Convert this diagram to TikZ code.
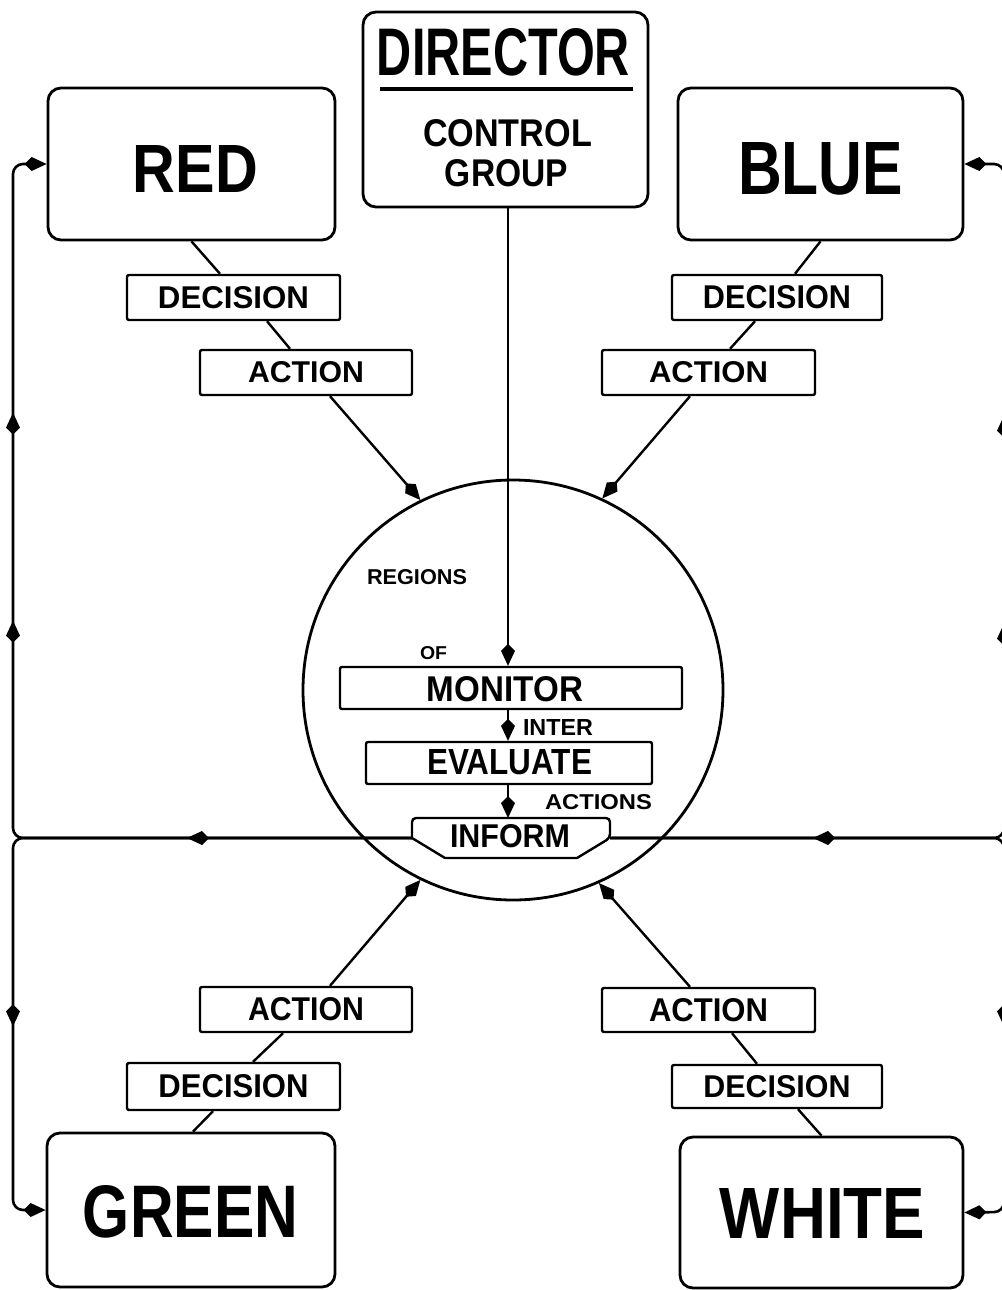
\documentclass[tikz,border=0pt]{standalone}
\usepackage{fontspec}
\setmainfont{Liberation Sans}
\usepackage{graphicx}
\usetikzlibrary{arrows.meta,decorations.markings,calc}

\newcommand\fittxt[3]{\resizebox{#1pt}{#2pt}{\bfseries #3}}

\begin{document}
\begin{tikzpicture}[x=1pt,y=-1pt,
  >={Kite[length=22pt,width=14pt,inset=7pt]},
  bigbox/.style={draw,line width=2.8pt,rounded corners=13pt,inner sep=0pt},
  smallbox/.style={draw,line width=2.4pt,rounded corners=2pt,inner sep=0pt,minimum height=45pt},
  link/.style={line width=2.4pt},
  feed/.style={line width=2.6pt,rounded corners=10pt},
  txt/.style={inner sep=0pt},
  marks/.style={postaction={decorate},decoration={markings,#1}}
]
\useasboundingbox (0,0) rectangle (1001,1290);

% ---------- main boxes ----------
\node[bigbox,minimum width=285pt,minimum height=195pt] (dir) at (505.5,109.5) {};
\node[bigbox,minimum width=287pt,minimum height=152pt] (red) at (191.5,164) {};
\node[bigbox,minimum width=285pt,minimum height=152pt] (blue) at (820.5,164) {};
\node[bigbox,minimum width=288pt,minimum height=154pt] (green) at (191,1210) {};
\node[bigbox,minimum width=283pt,minimum height=151pt] (white) at (821.5,1212.5) {};

% ---------- director texts ----------
\node[txt] (dirT) at (503.5,52.5) {\fittxt{253}{47}{DIRECTOR}};
\draw[line width=4pt] (dirT.south west) ++(3,12) coordinate (ulA) -- ++(253,0) coordinate (ulB);
\node[txt] (ctrlT) at (507.5,133.5) {\fittxt{169}{27}{CONTROL}};
\node[txt] (grpT) at (506.5,173.5) {\fittxt{123}{27}{GROUP}};

% ---------- team names ----------
\node[txt] (redT) at (195.5,168.5) {\fittxt{125}{47}{RED}};
\node[txt] (blueT) at (820.5,168.5) {\fittxt{165}{52}{BLUE}};
\node[txt] (greenT) at (190.5,1211.5) {\fittxt{215}{52}{GREEN}};
\node[txt] (whiteT) at (822.5,1213) {\fittxt{205}{50}{WHITE}};

% ---------- decision / action boxes ----------
\node[smallbox,minimum width=213pt] (decr) at (233.5,297.5) {\fittxt{151}{22}{DECISION}};
\node[smallbox,minimum width=212pt] (actr) at (306,372.5) {\fittxt{116}{21}{ACTION}};
\node[smallbox,minimum width=210pt] (decb) at (777,297.5) {\fittxt{148}{23}{DECISION}};
\node[smallbox,minimum width=213pt] (actb) at (708.5,372.5) {\fittxt{119}{21}{ACTION}};
\node[smallbox,minimum width=212pt] (actg) at (306,1009.5) {\fittxt{116}{23}{ACTION}};
\node[smallbox,minimum width=213pt,minimum height=47pt] (decg) at (233.5,1086.5) {\fittxt{150}{23}{DECISION}};
\node[smallbox,minimum width=213pt,minimum height=44pt] (actw) at (708.5,1010) {\fittxt{119}{23}{ACTION}};
\node[smallbox,minimum width=210pt,minimum height=43pt] (decw) at (777,1086.5) {\fittxt{147}{22}{DECISION}};

% ---------- circle ----------
\node[draw,circle,line width=2.8pt,minimum size=420pt,inner sep=0pt] (circ) at (513,690) {};

\node[txt] (regT) at (417,577.5) {\fittxt{100}{15}{REGIONS}};
\node[txt] (ofT) at (433.5,653.5) {\fittxt{27}{13}{OF}};
\node[smallbox,minimum width=342pt,minimum height=42pt] (mon) at (511,688) {};
\node[txt] (monT) at (505,689.5) {\fittxt{156}{25}{MONITOR}};
\node[txt] (interT) at (558,727) {\fittxt{70}{16}{INTER}};
\node[smallbox,minimum width=286pt,minimum height=42pt] (eva) at (509,763) {};
\node[txt] (evaT) at (509.5,762.5) {\fittxt{165}{25}{EVALUATE}};
\node[txt] (actsT) at (598.5,802.5) {\fittxt{107}{15}{ACTIONS}};

% INFORM shape
\coordinate (infL) at (412,838);
\coordinate (infR) at (610,838);
\draw[line width=2.4pt,rounded corners=4pt] (infL) -- (412,818) -- (610,818) -- (infR) [sharp corners] -- (577,858) -- (445,858) -- cycle;
\node[txt] (infT) at (510,836.5) {\fittxt{120}{23}{INFORM}};

% ---------- control line and internal flow ----------
\coordinate (cx) at (508,0);
\draw[line width=2pt,->] (dir.south -| cx) -- (mon.north -| cx);
\draw[line width=2pt,->] (mon.south -| cx) -- (eva.north -| cx);
\draw[line width=2pt,->] (eva.south -| cx) -- (508,818);

% ---------- team chains ----------
\draw[link] (red.south) -- ([xshift=-13.5pt]decr.north);
\draw[link] ([xshift=33.5pt]decr.south) -- ([xshift=-16pt]actr.north);
\draw[link,->] ([xshift=24pt]actr.south) -- (circ.116);

\draw[link] (blue.south) -- ([xshift=18pt]decb.north);
\draw[link] ([xshift=-22pt]decb.south) -- ([xshift=21.5pt]actb.north);
\draw[link,->] ([xshift=-18.5pt]actb.south) -- (circ.65);

\draw[link,->] ([xshift=24pt]actg.north) -- (circ.244);
\draw[link] ([xshift=-23pt]actg.south) -- ([xshift=19.5pt]decg.north);
\draw[link] ([xshift=-20.5pt]decg.south) -- ([xshift=2pt]green.north);

\draw[link,->] ([xshift=-18.5pt]actw.north) -- (circ.294);
\draw[link] ([xshift=23.5pt]actw.south) -- ([xshift=-20pt]decw.north);
\draw[link] ([xshift=21pt]decw.south) -- (white.north);

% ---------- feedback lines ----------
\draw[feed,->,marks={mark=at position 225pt with {\arrow{>}},
                     mark=at position 612pt with {\arrow{>}},
                     mark=at position 820pt with {\arrow{>}}}]
  (infL) -| (13,164) -- (red.west);
\draw[feed,->,marks={mark=at position 583pt with {\arrow{>}}}]
  (infL) -| (13,1210) -- (green.west);
\draw[feed,->,marks={mark=at position 203pt with {\arrowreversed{>}},
                     mark=at position 604pt with {\arrow{>}},
                     mark=at position 812pt with {\arrow{>}}}]
  (infR) -| (1004,164) -- (blue.east);
\draw[feed,->,marks={mark=at position 578pt with {\arrow{>}}}]
  (infR) -| (1004,1212) -- (white.east);
\end{tikzpicture}
\end{document}
